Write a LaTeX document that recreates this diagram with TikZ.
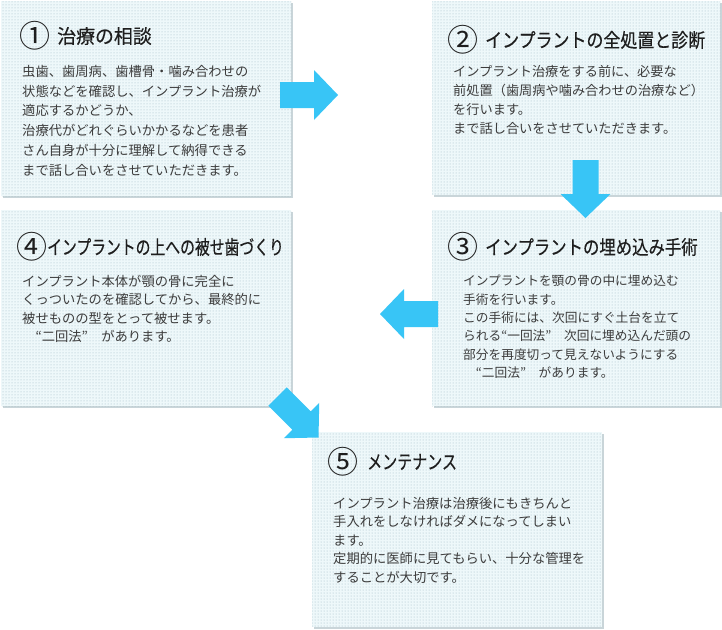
\documentclass[tikz,border=0pt]{standalone}
\usepackage{fontspec}
\newfontfamily\jp{Noto Sans CJK JP}
\newfontfamily\jpt[FakeBold=0.25]{Noto Sans CJK JP}
\usetikzlibrary{patterns,shadows}
\definecolor{boxbg}{HTML}{EEF8FA}
\definecolor{dotcol}{HTML}{9CB9C2}
\definecolor{shadowcol}{HTML}{C9D5D9}
\definecolor{arrowblue}{HTML}{38C5F6}
\definecolor{bodytext}{HTML}{3C3C3C}
\definecolor{titletext}{HTML}{1E1E1E}
\tikzset{
  stepbox/.style={rectangle, draw=none, fill=boxbg, anchor=north west, inner sep=0pt,
    minimum width=290pt, minimum height=195pt,
    general shadow={fill=shadowcol, shadow xshift=2pt, shadow yshift=-2pt},
    postaction={pattern=dots, pattern color=dotcol}},
  numcirc/.style={inner sep=0pt, text=titletext, font=\jp\fontsize{31}{31}\selectfont},
  titletxt/.style={anchor=west, inner sep=0pt, text=titletext, font=\jpt\fontsize{19.5}{19.5}\selectfont},
  bodytxt/.style={anchor=north west, inner sep=0pt, align=left, text=bodytext},
  blockarrow/.pic={\fill[arrowblue] (0,-13) -- (34,-13) -- (34,-25) -- (58,0) -- (34,25) -- (34,13) -- (0,13) -- cycle;}
}
\begin{document}
\begin{tikzpicture}[x=1pt,y=-1pt]
\useasboundingbox (0,0) rectangle (722,629);
\fill[white] (0,0) rectangle (722,629);
% boxes
\node[stepbox] (b1) at (1,1) {};
\node[stepbox, minimum width=288pt, minimum height=194pt] (b2) at (432,1) {};
\node[stepbox, minimum width=288pt, minimum height=196pt] (b3) at (432,210) {};
\node[stepbox, minimum height=196pt] (b4) at (1,210) {};
\node[stepbox, minimum height=195pt] (b5) at (312,432) {};
% titles
\node[numcirc] (n1) at (35,36) {①};
\node[titletxt] (t1) at (57,36) {\scalebox{0.97}[1]{治療の相談}};
\node[numcirc] (n2) at (463,40) {②};
\node[titletxt] (t2) at (485,40) {\scalebox{0.87}[1]{インプラントの全処置と診断}};
\node[numcirc] (n3) at (463,247) {③};
\node[titletxt] (t3) at (485,247) {\scalebox{0.84}[1]{インプラントの埋め込み手術}};
\node[numcirc] (n4) at (32,247) {④};
\node[titletxt] (t4) at (47,247) {\scalebox{0.76}[1]{インプラントの上への被せ歯づくり}};
\node[numcirc] (n5) at (343,462) {⑤};
\node[titletxt] (t5) at (367,462) {\scalebox{0.77}[1]{メンテナンス}};
% bodies
\node[bodytxt, font=\jp\fontsize{13.3}{19.8}\selectfont] (p1) at (22,65) {虫歯、歯周病、歯槽骨・噛み合わせの\\状態などを確認し、インプラント治療が\\適応するかどうか、\\治療代がどれぐらいかかるなどを患者\\さん自身が十分に理解して納得できる\\まで話し合いをさせていただきます。};
\node[bodytxt, font=\jp\fontsize{13.2}{19}\selectfont] (p2) at (453,65) {インプラント治療をする前に、必要な\\前処置（歯周病や噛み合わせの治療など）\\を行います。\\まで話し合いをさせていただきます。};
\node[bodytxt, font=\jp\fontsize{12.7}{18.3}\selectfont] (p3) at (463,275) {インプラントを顎の骨の中に埋め込む\\手術を行います。\\この手術には、次回にすぐ土台を立て\\られる“一回法”　次回に埋め込んだ頭の\\部分を再度切って見えないようにする\\　“二回法”　があります。};
\node[bodytxt, font=\jp\fontsize{13.3}{18.3}\selectfont] (p4) at (22,275) {インプラント本体が顎の骨に完全に\\くっついたのを確認してから、最終的に\\被せものの型をとって被せます。\\　“二回法”　があります。};
\node[bodytxt, font=\jp\fontsize{13.3}{18.5}\selectfont] (p5) at (333,497) {インプラント治療は治療後にもきちんと\\手入れをしなければダメになってしまい\\ます。\\定期的に医師に見てもらい、十分な管理を\\することが大切です。};
% arrows
\pic at (280,95) {blockarrow};
\pic[rotate=-90] at (585.5,160) {blockarrow};
\pic[rotate=180] at (438,314) {blockarrow};
\pic[rotate=-45] at (277.5,396.5) {blockarrow};
\end{tikzpicture}
\end{document}
